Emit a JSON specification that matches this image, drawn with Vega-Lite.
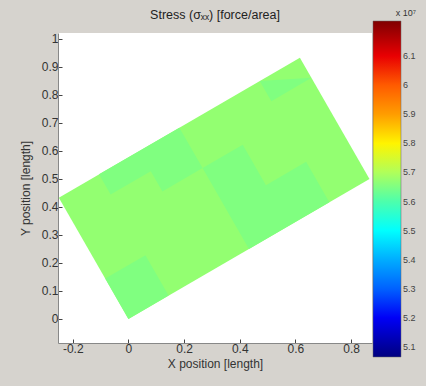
{
  "$schema": "https://vega.github.io/schema/vega-lite/v6.json",
  "width": 314,
  "height": 310,
  "autosize": {"type": "none"},
  "padding": {"left": 58, "top": 33, "right": 54, "bottom": 43},
  "background": "#d6d3ce",
  "title": {
    "text": "Stress (σₓₓ) [force/area]",
    "font": "Liberation Sans",
    "fontSize": 12.5,
    "fontWeight": "normal",
    "color": "#222222",
    "anchor": "middle",
    "offset": 0,
    "dy": 12
  },
  "data": {
    "values": [
      {"poly": "base", "i": 0, "x": 0, "y": 0, "s": 5.666},
      {"poly": "base", "i": 1, "x": 0.866, "y": 0.5, "s": 5.666},
      {"poly": "base", "i": 2, "x": 0.616, "y": 0.933, "s": 5.666},
      {"poly": "base", "i": 3, "x": -0.25, "y": 0.433, "s": 5.666},
      {"poly": "b1", "i": 0, "x": 0, "y": 0, "s": 5.643},
      {"poly": "b1", "i": 1, "x": 0.1443, "y": 0.0833, "s": 5.643},
      {"poly": "b1", "i": 2, "x": 0.061, "y": 0.2277, "s": 5.643},
      {"poly": "b1", "i": 3, "x": -0.0833, "y": 0.1443, "s": 5.643},
      {"poly": "b2", "i": 0, "x": -0.064, "y": 0.4442, "s": 5.643},
      {"poly": "b2", "i": 1, "x": 0.0803, "y": 0.5275, "s": 5.643},
      {"poly": "b2", "i": 2, "x": 0.122, "y": 0.4553, "s": 5.643},
      {"poly": "b2", "i": 3, "x": 0.2663, "y": 0.5387, "s": 5.643},
      {"poly": "b2", "i": 4, "x": 0.183, "y": 0.683, "s": 5.643},
      {"poly": "b2", "i": 5, "x": -0.1057, "y": 0.5163, "s": 5.643},
      {"poly": "b3", "i": 0, "x": 0.433, "y": 0.25, "s": 5.643},
      {"poly": "b3", "i": 1, "x": 0.7217, "y": 0.4167, "s": 5.643},
      {"poly": "b3", "i": 2, "x": 0.6384, "y": 0.561, "s": 5.643},
      {"poly": "b3", "i": 3, "x": 0.494, "y": 0.4777, "s": 5.643},
      {"poly": "b3", "i": 4, "x": 0.4107, "y": 0.622, "s": 5.643},
      {"poly": "b3", "i": 5, "x": 0.2663, "y": 0.5387, "s": 5.643},
      {"poly": "b4", "i": 0, "x": 0.4717, "y": 0.8497, "s": 5.643},
      {"poly": "b4", "i": 1, "x": 0.6577, "y": 0.8608, "s": 5.643},
      {"poly": "b4", "i": 2, "x": 0.5134, "y": 0.7775, "s": 5.643}
    ]
  },
  "encoding": {
    "x": {
      "field": "x", "type": "quantitative",
      "scale": {"domain": [-0.253, 0.875], "nice": false, "zero": false},
      "axis": {
        "title": "X position [length]",
        "values": [-0.2, 0, 0.2, 0.4, 0.6, 0.8],
        "labelExpr": "replace(format(datum.value, '~g'), '−', '-')",
        "grid": false
      }
    },
    "y": {
      "field": "y", "type": "quantitative",
      "scale": {"domain": [-0.086, 1.021], "nice": false, "zero": false},
      "axis": {
        "title": "Y position [length]",
        "values": [0, 0.1, 0.2, 0.3, 0.4, 0.5, 0.6, 0.7, 0.8, 0.9, 1],
        "format": "~g",
        "grid": false
      }
    },
    "order": {"field": "i", "type": "quantitative"},
    "detail": {"field": "poly", "type": "nominal"},
    "fill": {
      "field": "s", "type": "quantitative",
      "scale": {
        "domain": [5.0655, 6.2207],
        "nice": false, "zero": false,
        "range": ["#000080", "#0000ff", "#0080ff", "#00ffff", "#80ff80", "#ffff00", "#ff8000", "#ff0000", "#800000"]
      },
      "legend": {
        "title": "x 10⁷",
        "orient": "none",
        "legendX": 315,
        "legendY": -24,
        "direction": "vertical",
        "gradientLength": 336,
        "gradientThickness": 28,
        "values": [5.1, 5.2, 5.3, 5.4, 5.5, 5.6, 5.7, 5.8, 5.9, 6, 6.1],
        "format": ".1~f",
        "labelOverlap": false
      }
    }
  },
  "layer": [
    {
      "transform": [{"filter": "datum.poly == 'base'"}],
      "mark": {"type": "line", "strokeOpacity": 0, "strokeWidth": 0, "fillOpacity": 1}
    },
    {
      "transform": [{"filter": "datum.poly != 'base'"}],
      "mark": {"type": "line", "strokeOpacity": 0, "strokeWidth": 0, "fillOpacity": 1}
    }
  ],
  "config": {
    "font": "Liberation Sans",
    "view": {"fill": "white", "stroke": null},
    "axis": {
      "labelFont": "Liberation Sans",
      "labelFontSize": 12,
      "labelColor": "#333333",
      "titleFont": "Liberation Sans",
      "titleFontSize": 12,
      "titleFontWeight": "normal",
      "titleColor": "#333333",
      "domainColor": "#888888",
      "tickColor": "#444444",
      "tickSize": -4,
      "labelPadding": 4
    },
    "axisX": {"titlePadding": 4},
    "axisY": {"titlePadding": 9},
    "legend": {
      "padding": 0,
      "titleFont": "Liberation Sans",
      "titleFontSize": 9,
      "titleFontWeight": "normal",
      "titleColor": "#333333",
      "titleAnchor": "end",
      "titlePadding": 3,
      "labelFont": "Liberation Sans",
      "labelFontSize": 9,
      "labelColor": "#444444",
      "labelOffset": 4,
      "gradientStrokeColor": "#666666",
      "gradientStrokeWidth": 0.5
    }
  }
}
